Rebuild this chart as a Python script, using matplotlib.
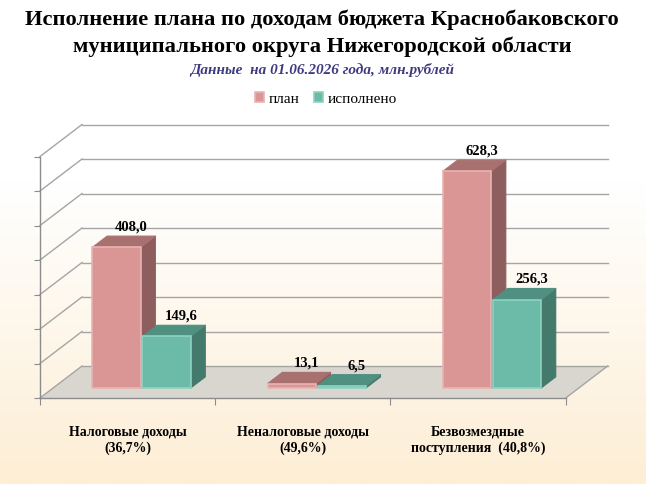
import numpy as np
import matplotlib
matplotlib.use("Agg")
import matplotlib.pyplot as plt
from matplotlib.patches import Polygon
from matplotlib.colors import LinearSegmentedColormap

# ---------------- data ----------------
categories = ["Налоговые доходы\n(36,7%)",
              "Неналоговые доходы\n(49,6%)",
              "Безвозмездные\nпоступления  (40,8%)"]
series_names = ["план", "исполнено"]
plan = [408.0, 13.1, 628.3]
done = [149.6, 6.5, 256.3]
y_max = 700
y_step = 100

title_lines = ["Исполнение плана по доходам бюджета Краснобаковского",
               "муниципального округа Нижегородской области"]
subtitle = "Данные  на 01.06.2026 года, млн.рублей"

# ---------------- styling ----------------
W, H = 646, 484
SERIF = ["Liberation Serif", "DejaVu Serif"]
front_cols = ["#D99694", "#6CBBA8"]
top_cols = ["#A8706F", "#4F9080"]
side_cols = ["#8D5E5D", "#437A6C"]
edge_cols = ["#E9B4B2", "#8ED2C1"]
grid_col = "#A5A5A5"
floor_col = "#D9D6CF"

fig = plt.figure(figsize=(W / 100, H / 100), dpi=100)

# background gradient
bg = fig.add_axes([0, 0, 1, 1], zorder=-10)
cmap = LinearSegmentedColormap.from_list(
    "bg", [(0, "#FFFFFF"), (0.38, "#FFFFFF"), (1, "#FDEED5")])
bg.imshow(np.linspace(0, 1, 256).reshape(-1, 1), aspect="auto", cmap=cmap,
          extent=[0, 1, 0, 1], origin="upper")
bg.axis("off")

# plot area (front plane)
L, R, B, T = 40, 565.7, 398, 156.5
ax = fig.add_axes([L / W, 1 - B / H, (R - L) / W, (B - T) / H])
n = len(categories)
ax.set_xlim(0, n)
ax.set_ylim(0, y_max)
ax.patch.set_visible(False)

px_per_x = (R - L) / n
px_per_v = (B - T) / y_max
DX = 42 / px_per_x      # full depth shift in x units
DY = 32 / px_per_v      # full depth shift in value units


def P(x, v, d):
    return (x + d * DX, v + d * DY)


# floor
floor = Polygon([P(0, 0, 0), P(n, 0, 0), P(n, 0, 1), P(0, 0, 1)],
                closed=True, facecolor=floor_col, edgecolor="none",
                zorder=1, clip_on=False)
ax.add_patch(floor)
ax.plot(*zip(P(n, 0, 0), P(n, 0, 1)), color=grid_col, lw=1, zorder=2,
        clip_on=False)

# gridlines on back wall and side wall
for v in np.arange(0, y_max + 1, y_step):
    ax.plot(*zip(P(0, v, 1), P(n, v, 1)), color=grid_col, lw=1, zorder=2,
            clip_on=False)
    ax.plot(*zip(P(0, v, 0), P(0, v, 1)), color=grid_col, lw=1, zorder=2,
            clip_on=False)

# spines / ticks
for s in ["top", "right"]:
    ax.spines[s].set_visible(False)
for s in ["left", "bottom"]:
    ax.spines[s].set_color("#8C8C8C")
    ax.spines[s].set_linewidth(1)
    ax.spines[s].set_zorder(2.5)
ax.set_yticks(np.arange(0, y_max + 1, y_step))
ax.set_xticks(np.arange(0, n + 1))
ax.tick_params(axis="y", length=4, color="#8C8C8C", labelleft=False)
ax.tick_params(axis="x", length=5, color="#8C8C8C", labelbottom=False)

# bars
d0, d1 = 0.31, 0.66
offs = [0.225, 0.51]
w = 0.275
z = 3.0

bar_containers = [None, None]
for i in range(n):
    for s, vals in enumerate([plan, done]):
        v = vals[i]
        x0 = i + offs[s]
        side = Polygon([P(x0 + w, 0, d0), P(x0 + w, 0, d1),
                        P(x0 + w, v, d1), P(x0 + w, v, d0)],
                       closed=True, facecolor=side_cols[s],
                       edgecolor=side_cols[s], lw=0.8, zorder=z,
                       clip_on=False, joinstyle="round")
        top = Polygon([P(x0, v, d0), P(x0 + w, v, d0),
                       P(x0 + w, v, d1), P(x0, v, d1)],
                      closed=True, facecolor=top_cols[s],
                      edgecolor=top_cols[s], lw=0.8, zorder=z + 0.01,
                      clip_on=False, joinstyle="round")
        ax.add_patch(side)
        ax.add_patch(top)
        bc = ax.bar(x0 + d0 * DX, v, width=w, bottom=d0 * DY, align="edge",
                    color=front_cols[s], edgecolor=edge_cols[s], lw=1.2,
                    zorder=z + 0.02, clip_on=False,
                    label=series_names[s] if i == 0 else None)
        if bar_containers[s] is None:
            bar_containers[s] = bc
        lx, ly = P(x0 + w / 2, v, d1)
        ax.annotate(f"{v:.1f}".replace(".", ","), xy=(lx, ly),
                    xytext=(0, 9), textcoords="offset pixels",
                    ha="center", va="center", fontsize=10.5,
                    fontweight="bold", family=SERIF, color="black",
                    annotation_clip=False, zorder=10)
        z += 0.1

# category labels
for i, c in enumerate(categories):
    ax.annotate(c, xy=(i + 0.5, 0), xytext=(0, -42),
                textcoords="offset pixels", ha="center", va="center",
                fontsize=10, fontweight="bold", family=SERIF,
                linespacing=1.25, annotation_clip=False)

# titles
fig.text(321.5 / W, 1 - 20 / H, title_lines[0], ha="center", va="center",
         fontsize=16.2, fontweight="bold", family=SERIF)
fig.text(322.5 / W, 1 - 47 / H, title_lines[1], ha="center", va="center",
         fontsize=16.2, fontweight="bold", family=SERIF)
fig.text(322 / W, 1 - 70 / H, subtitle, ha="center", va="center",
         fontsize=11, fontweight="bold", style="italic", family=SERIF,
         color="#3F3A80")

# legend
fig.legend(handles=bar_containers, labels=series_names, loc="center",
           bbox_to_anchor=(326 / W, 1 - 99 / H), ncol=2, frameon=False,
           prop={"family": SERIF, "size": 11}, handlelength=0.6,
           handleheight=0.6, handletextpad=0.3, columnspacing=0.9,
           borderpad=0)

fig.savefig("out.png", dpi=100)
